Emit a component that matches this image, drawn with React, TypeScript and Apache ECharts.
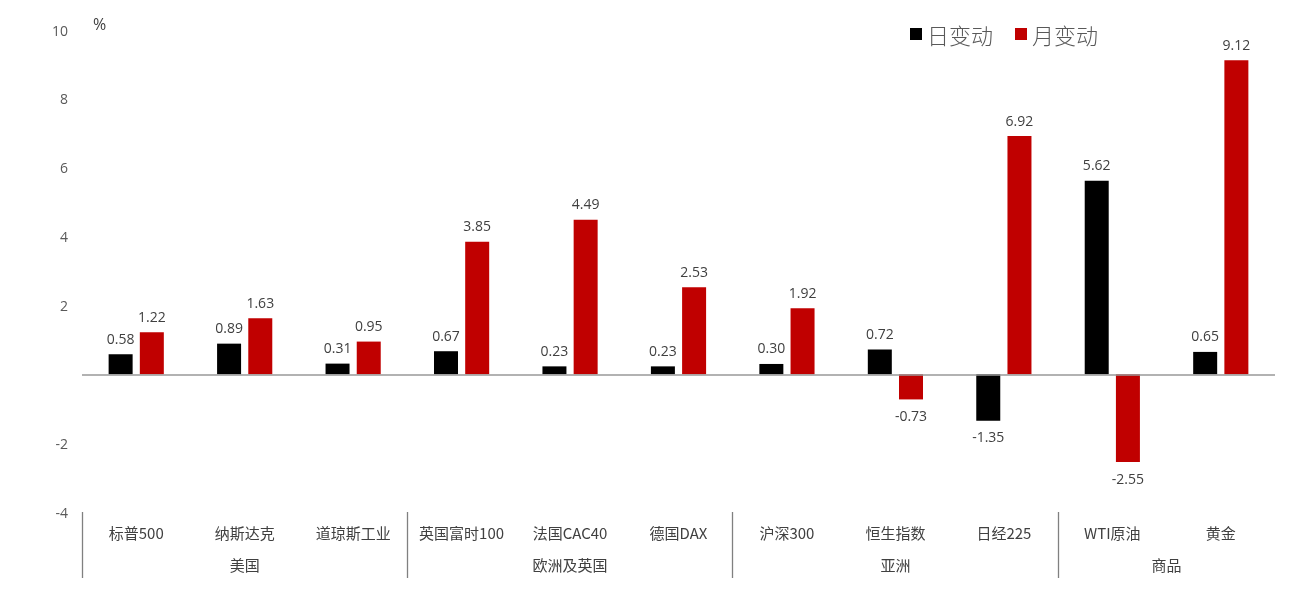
import React, { useEffect, useRef } from "react";
import * as echarts from "echarts";

const categories = ["标普500", "纳斯达克", "道琼斯工业", "英国富时100", "法国CAC40", "德国DAX", "沪深300", "恒生指数", "日经225", "WTI原油", "黄金"];
const dailyChange = [0.58, 0.89, 0.31, 0.67, 0.23, 0.23, 0.30, 0.72, -1.35, 5.62, 0.65];
const monthlyChange = [1.22, 1.63, 0.95, 3.85, 4.49, 2.53, 1.92, -0.73, 6.92, -2.55, 9.12];
// group names placed on a half-category grid (23 boundary points)
const groupSlots = ["", "", "", "美国", "", "", "", "", "", "欧洲及英国", "", "", "", "", "", "亚洲", "", "", "", "", "商品", "", ""];
// separator positions on the half-category grid
const separatorSlots = [0, 6, 12, 18];

const toItems = (arr: number[]) =>
  arr.map((v) => ({ value: v, label: { position: v < 0 ? "bottom" : "top" } }));

export default function App() {
  const ref = useRef<HTMLDivElement>(null);
  useEffect(() => {
    if (!ref.current) return;
    const chart = echarts.init(ref.current, undefined, { renderer: "svg" });
    const font = "'Noto Sans CJK SC', 'Open Sans', sans-serif";
    const numFont = "'Open Sans', 'Noto Sans CJK SC', sans-serif";
    const barLabel = {
      show: true,
      fontSize: 14,
      color: "#404040",
      distance: 9,
      fontFamily: numFont,
      formatter: (p: any) => Number(p.value).toFixed(2),
    };
    chart.setOption({
      animation: false,
      textStyle: { fontFamily: font },
      grid: { left: 82, right: 20, top: 30, bottom: 90 },
      legend: {
        right: 192,
        top: 18,
        itemWidth: 12,
        itemHeight: 12,
        itemGap: 22,
        icon: "rect",
        textStyle: { fontSize: 22, color: "#595959", fontFamily: font, fontWeight: 300 },
        data: ["日变动", "月变动"],
      },
      graphic: [
        { type: "text", left: 93, top: 16, style: { text: "%", fontSize: 16, fill: "#404040", fontFamily: numFont } },
      ],
      xAxis: [
        {
          type: "category",
          data: categories,
          position: "bottom",
          axisLine: { show: false, onZero: false },
          axisTick: { show: false },
          axisLabel: { interval: 0, margin: 13, fontSize: 15, color: "#404040", fontFamily: font },
        },
        {
          type: "category",
          data: groupSlots,
          position: "bottom",
          boundaryGap: false,
          axisLine: { show: false, onZero: false },
          axisTick: {
            show: true,
            inside: false,
            length: 66,
            interval: (i: number) => separatorSlots.includes(i),
            lineStyle: { color: "#808080", width: 1.3 },
          },
          axisLabel: { interval: 0, margin: 45, fontSize: 15, color: "#404040", fontFamily: font },
        },
      ],
      yAxis: {
        type: "value",
        min: -4,
        max: 10,
        interval: 2,
        axisLine: { show: false },
        axisTick: { show: false },
        splitLine: { show: false },
        axisLabel: {
          margin: 14,
          fontSize: 14,
          color: "#595959",
          fontFamily: numFont,
          formatter: (v: number) => (v === 0 ? "" : String(v)),
        },
      },
      series: [
        {
          name: "日变动",
          type: "bar",
          data: toItems(dailyChange),
          barWidth: 24,
          barGap: "30%",
          itemStyle: { color: "#000000" },
          label: barLabel,
          markLine: {
            silent: true,
            symbol: "none",
            label: { show: false },
            lineStyle: { color: "#999999", type: "solid", width: 1.5 },
            data: [{ yAxis: 0 }],
          },
        },
        {
          name: "月变动",
          type: "bar",
          data: toItems(monthlyChange),
          barWidth: 24,
          barGap: "30%",
          itemStyle: { color: "#c00000" },
          label: barLabel,
        },
      ],
    });
    return () => chart.dispose();
  }, []);
  return <div ref={ref} style={{ position: "fixed", left: 0, top: 0, width: 1295, height: 602 }} />;
}
